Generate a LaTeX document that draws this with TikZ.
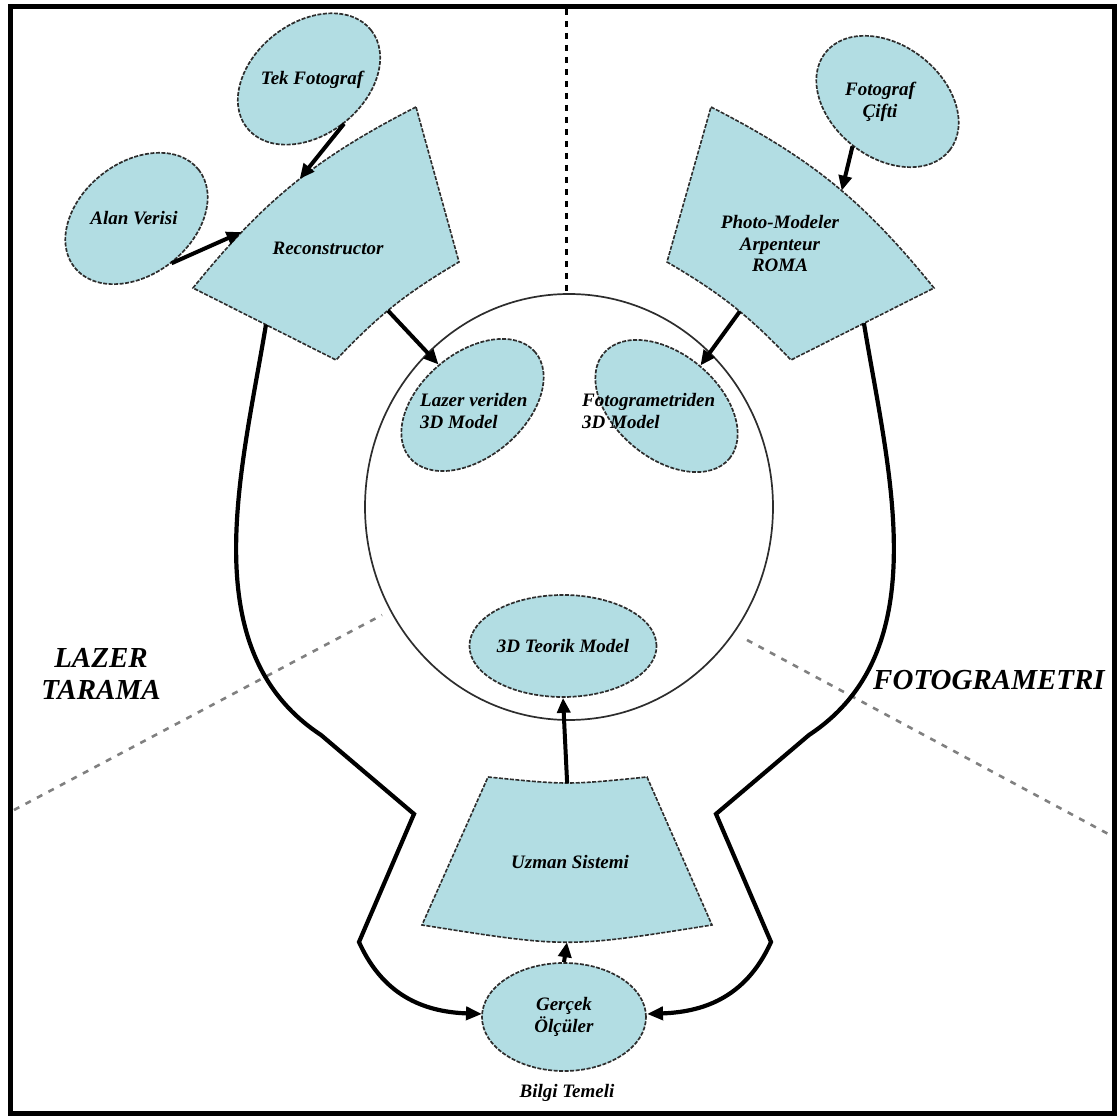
\documentclass[tikz,border=0pt]{standalone}
\usepackage{fontspec}
\setmainfont{Liberation Serif}
\usetikzlibrary{shapes.geometric,arrows.meta,calc}
\definecolor{shapefill}{RGB}{178,221,227}
\definecolor{edgecol}{RGB}{45,45,45}
\begin{document}
\begin{tikzpicture}[x=1pt,y=1pt,
  blob/.style={ellipse, draw=edgecol, fill=shapefill, line width=1.7pt,
               dash pattern=on 4pt off 1.5pt, inner sep=0pt},
  fan/.style={draw=edgecol, fill=shapefill, line width=1.6pt,
              dash pattern=on 4pt off 1.5pt},
  lbl/.style={font=\fontsize{19}{21.5}\selectfont\bfseries\itshape,
              align=center, inner sep=0pt},
  big/.style={font=\fontsize{29}{32}\selectfont\bfseries\itshape,
              align=center, inner sep=0pt},
  arr/.style={line width=4pt, -{Triangle[length=15pt,width=13pt]}},
  loopline/.style={line width=4.2pt, line join=miter,
                   -{Triangle[length=16pt,width=13pt]}},
  sepline/.style={draw=gray, line width=2.6pt, dash pattern=on 6pt off 7pt},
]
\useasboundingbox (0,0) rectangle (1118,1120);

% frame
\draw[line width=5pt] (10.5,6.5) rectangle (1114,1113.5);

% separators between the three domains
\coordinate (sepL1) at (14,310);
\coordinate (sepL2) at (382,505);
\coordinate (sepR1) at (747,480);
\coordinate (sepR2) at (1112,284);
\coordinate (sepTop) at (566,1111);
\draw[sepline] (sepL1) -- (sepL2);
\draw[sepline] (sepR1) -- (sepR2);

% central model circle
\node[ellipse, draw=edgecol, line width=1.7pt, minimum width=408pt,
      minimum height=426pt, inner sep=0pt] (bigc) at (569,613) {};
\draw[line width=3pt, dash pattern=on 6pt off 6pt] (sepTop) -- (566,826);

% fan shapes
\path[fan] (416,1013) to[bend right=12] coordinate[pos=0.47] (recA)
    coordinate[pos=0.76] (recA2) (193,832)
    -- coordinate[pos=0.51] (recC) (336,760)
    to[bend left=8] coordinate[pos=0.45] (recB) (459,858) -- cycle;
\node[lbl] (rectxt) at (328,872) {Reconstructor};

\path[fan] (711,1013) to[bend left=12] coordinate[pos=0.54] (pmA) (934,832)
    -- coordinate[pos=0.49] (pmC) (791,760)
    to[bend right=8] coordinate[pos=0.44] (pmB) (667,858) -- cycle;
\node[lbl] (pmtxt) at (780,876) {Photo-Modeler\\Arpenteur\\ROMA};

\path[fan] (488,343) .. controls (567,335) .. coordinate[pos=0.5] (uzT) (647,343)
    -- (712,195) .. controls (567,172) .. coordinate[pos=0.5] (uzB) (422,195) -- cycle;
\node[lbl] (uztxt) at (570,258) {Uzman Sistemi};

% loops from the two techniques down to the measurements
\draw[loopline] (recC) .. controls (242,650) and (192,470) .. (321,385)
    -- (414,306) -- (359,178) .. controls (385,120) and (430,108) .. (482,106);
\draw[loopline] (pmC) .. controls (888,650) and (938,470) .. (809,385)
    -- (716,306) -- (771,178) .. controls (745,120) and (700,108) .. (647,106);

% ellipses
\node[blob, minimum width=158pt, minimum height=112pt, rotate=38] (tek) at (309,1041) {};
\node[lbl] (tektxt) at (312,1040) {Tek Fotograf};
\node[blob, minimum width=158pt, minimum height=112pt, rotate=38] (alan) at (136.5,901.5) {};
\node[lbl] (alantxt) at (134,902) {Alan Verisi};
\node[blob, minimum width=158pt, minimum height=112pt, rotate=-38] (cift) at (887.5,1018.5) {};
\node[lbl] (cifttxt) at (880,1018) {Fotograf\\Çifti};
\node[blob, minimum width=164pt, minimum height=104pt, rotate=40] (lazer) at (472.5,715) {};
\node[lbl, align=left, anchor=west] (lazertxt) at (420,709) {Lazer veriden\\3D Model};
\node[blob, minimum width=164pt, minimum height=104pt, rotate=-40] (foto) at (666.5,714) {};
\node[lbl, align=left, anchor=west] (fototxt) at (582,709) {Fotogrametriden\\3D Model};
\node[blob, lbl, minimum width=162pt, minimum height=102pt] (teorik) at (563,474) {3D Teorik Model};
\node[blob, lbl, minimum width=164pt, minimum height=108pt] (gercek) at (564,103) {Gerçek\\Ölçüler};
\node[lbl] (bilgi) at (567,27) {Bilgi Temeli};

% domain labels
\node[big] (lazertarama) at (101,446) {LAZER\\TARAMA};
\node[big] (fotogrametri) at (989,440) {FOTOGRAMETRI};

% arrows
\draw[arr] (tek.south) -- (recA);
\draw[arr] (alan.south) -- (recA2);
\draw[arr] (cift.south) -- (pmA);
\draw[arr] (recB) -- (lazer.north);
\draw[arr] (pmB) -- (foto.north);
\draw[arr] (uzT) -- (teorik.south);
\draw[arr] (gercek.north) -- (uzB);
\end{tikzpicture}
\end{document}
